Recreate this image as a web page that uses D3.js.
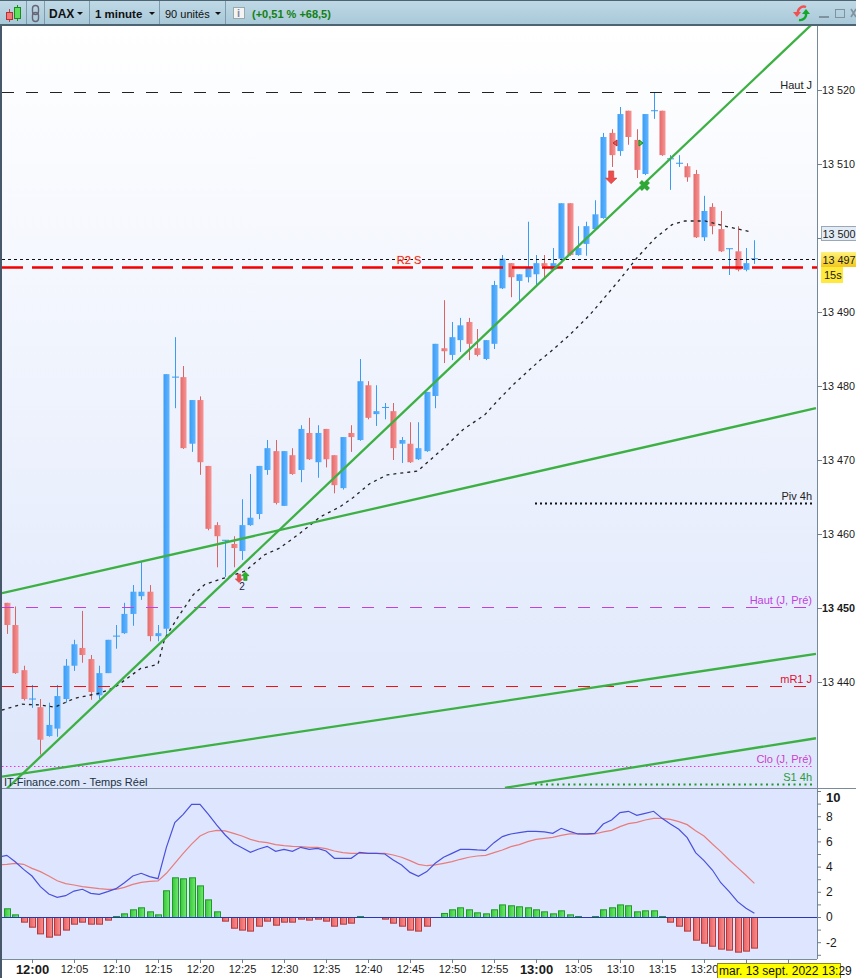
<!DOCTYPE html>
<html>
<head>
<meta charset="utf-8">
<script src="https://cdn.jsdelivr.net/npm/d3@7/dist/d3.min.js"></script>
<style>
html,body{margin:0;padding:0;background:#fff;overflow:hidden}
svg{display:block}
text{font-family:"Liberation Sans",Arial,sans-serif;font-size:11px}
</style>
</head>
<body>
<script>
// bougies 1 minute, de 11:57 a 13:26
var opens = [13450.7,13447.7,13441.6,13437.7,13436.6,13432.7,13433.7,13437.7,13442.2,13444.6,
  13443.1,13438.2,13441.2,13446.2,13446.6,13449.2,13451.6,13452.2,13446.2,13447.2,
  13481.2,13481.2,13472.2,13478.1,13469.2,13461.2,13459.15,13458.65,13457.7,13461.2,
  13462.7,13468.65,13471.2,13463.8,13470.65,13468.65,13473.65,13469.7,13474.2,13470.65,
  13466.2,13473.65,13472.7,13480.1,13476.2,13477.1,13476.6,13472.2,13472.2,13470.1,
  13471.2,13478.65,13485.1,13484.2,13486.2,13488.65,13485.1,13483.65,13485.7,13493.2,
  13496.6,13494.2,13494.7,13495.1,13496.6,13495.7,13497.2,13504.7,13497.7,13499.2,
  13501.2,13502.7,13514.2,13511.75,13517.2,13513.25,13508.65,13517.2,13517.2,13510.7,
  13510.1,13509.7,13508.65,13500.1,13504.2,13501.2,13498.55,13498.2,13495.7,13497.2];
var closes = [13447.7,13441.2,13437.7,13437.7,13432.2,13434.2,13438.1,13442.2,13445.1,13443.65,
  13438.65,13441.2,13445.7,13446.2,13449.2,13452.2,13452.2,13446.2,13446.6,13481.6,
  13481.2,13471.6,13478.1,13469.7,13460.7,13459.7,13459.15,13458.1,13461.2,13462.2,
  13469.2,13471.6,13464.2,13471.2,13468.1,13474.2,13470.1,13473.65,13470.1,13466.6,
  13473.1,13473.1,13480.65,13475.7,13476.6,13477.1,13471.6,13472.7,13469.7,13471.6,
  13479.2,13485.7,13484.7,13486.6,13488.2,13485.7,13484.2,13486.2,13493.65,13497.2,
  13494.7,13495.1,13496.1,13496.6,13496.2,13496.6,13504.7,13497.7,13498.65,13501.6,
  13503.2,13513.65,13511.2,13516.75,13513.65,13509.2,13516.75,13517.2,13511.2,13510.7,
  13510.1,13508.2,13500.1,13503.65,13501.6,13498.2,13498.55,13495.7,13496.6,13497.2];
var highs = [13450.7,13450.2,13442.2,13439.6,13437.7,13437.2,13439.6,13443.1,13445.7,13449.6,
  13443.65,13442.2,13445.7,13447.7,13450.7,13453.1,13456.2,13453.1,13447.7,13481.6,
  13486.6,13482.7,13478.1,13478.6,13469.2,13461.6,13459.15,13459.7,13464.7,13468.1,
  13469.2,13472.7,13472.7,13471.2,13471.6,13474.7,13475.7,13474.7,13474.2,13470.65,
  13473.1,13474.7,13483.65,13480.65,13480.1,13477.7,13477.7,13473.1,13475.1,13475.1,
  13479.2,13485.7,13491.6,13488.65,13489.2,13489.2,13487.7,13486.2,13494.2,13497.7,
  13496.6,13495.1,13502.2,13497.7,13497.7,13498.65,13504.7,13504.7,13501.6,13502.2,
  13505.1,13514.2,13514.7,13517.7,13517.2,13514.7,13516.75,13519.7,13517.2,13511.2,
  13511.2,13510.1,13509.2,13505.7,13504.7,13503.65,13498.55,13501.6,13498.65,13499.7];
var lows = [13446.5,13441.1,13437.5,13436.5,13430.2,13432.6,13432.6,13437.2,13441.5,13442.6,
  13437.6,13437.7,13441.2,13444.5,13446.5,13447.6,13451.1,13445.5,13445.5,13446.5,
  13477,13471.5,13471.1,13468,13460.5,13455.5,13454.2,13455.5,13456.5,13461.1,
  13462,13468,13464,13463.8,13468,13467,13470,13467.6,13469,13465.5,
  13466,13471.1,13472.6,13475.5,13474.6,13475.5,13470,13469.6,13469.6,13470,
  13471.1,13477,13483.1,13483.5,13484.6,13483.5,13484,13483.5,13485,13493.1,
  13492,13491.5,13494,13493.4,13494.6,13495.7,13496.6,13497.6,13497.6,13497.6,
  13501.2,13502.6,13509.6,13511.1,13512.6,13508.1,13508.5,13516.1,13511.1,13506.5,
  13509.6,13507.6,13500,13499.6,13500.5,13498.1,13495,13495.5,13495.5,13496.5];

// moyenne mobile pointillee: rang de bougie / prix
var emaRank = [-0.6,1.8,4,5.7,8.1,11.1,12.9,15.9,18,18.8,20.4,22.2,23.6,26.3,28.4,30.7,32.5,34.9,37.3,39.7,41.2,43.2,45.3,48.9,50.4,52.2,54.3,56.9,58.5,60.5,63.5,64.7,67,69.4,71.2,73.2,75,77.2,79.2,80.7,83.1,85.5,88.7];
var emaPrice = [13436.2,13437,13436.9,13436.6,13437.8,13438.5,13439.3,13441.8,13442.4,13445.9,13448.8,13451.8,13453.2,13454.2,13455,13457.2,13458.1,13460.1,13462.3,13463.7,13464.9,13466.8,13468,13468.5,13470,13471.8,13474.1,13476.1,13478.1,13480.4,13483.5,13484.6,13486.9,13489.6,13492,13494.7,13497.3,13500,13501.8,13502.3,13502.3,13501.6,13500.8];

// droites vertes: [rang, prix] de chaque bout
var trendA = [[0.02,13425.6],[95.86,13528.9]];
var trendB = [[-0.57,13452],[96.33,13477]];
var trendC = [[-0.57,13427.2],[96.33,13443.8]];
var trendD = [[59.3,13425.7],[96.33,13432.4]];

var levelNames = ["Haut J","","R2 S","Piv 4h","Haut (J, Pré)","mR1 J","Clo (J, Pré)","S1 4h"];
var levelValues = [13519.7,13497.1,13496.1,13464.2,13450.1,13439.4,13428.6,13426.2];

var priceTicks = [13440,13450,13460,13470,13480,13490,13500,13510,13520];
var macdTicks = [-2,0,2,4,6,8,10];
var macdMinor = [-3,-1,1,3,5,7,9];
var hourTicks = ["12:00","12:05","12:10","12:15","12:20","12:25","12:30","12:35","12:40","12:45","12:50","12:55","13:00","13:05","13:10","13:15","13:20","13:25","13:30"];

// MACD
var macdLead = 4.75, signalLead = 4.14;
var macd = [4.89,4.39,3.78,3.25,2.41,1.83,1.56,1.69,2.06,2.2,1.88,1.8,2.01,2.25,2.72,3.25,3.47,3.2,3.04,5.53,
  7.49,8.15,8.94,8.94,8.15,7.3,6.51,5.85,5.5,5.13,5.4,5.61,5.21,5.37,5.21,5.53,5.37,5.45,5.24,4.66,
  4.66,4.66,5.13,5.05,5.05,5,4.52,4.13,3.54,3.23,3.6,4.26,4.74,5.05,5.37,5.37,5.32,5.29,5.9,6.38,
  6.59,6.69,6.8,6.8,6.75,6.64,7.04,6.8,6.59,6.59,6.64,7.38,7.7,8.28,8.39,8.07,8.23,8.39,7.83,7.38,
  6.96,6.3,5.11,4.47,3.73,2.72,2.01,1.22,0.69,0.29];
var signal = [4.18,4.26,4.18,3.86,3.6,3.25,2.88,2.65,2.54,2.41,2.33,2.25,2.2,2.2,2.35,2.59,2.75,2.83,2.86,3.47,
  4.26,5.05,5.79,6.43,6.75,6.88,6.83,6.64,6.43,6.16,5.98,5.9,5.74,5.66,5.61,5.58,5.53,5.53,5.42,5.24,
  5.11,5.05,5.05,5.05,5.05,5.05,4.92,4.74,4.47,4.18,4.07,4.13,4.26,4.39,4.58,4.74,4.84,4.89,5.11,5.32,
  5.58,5.74,5.98,6.16,6.24,6.32,6.48,6.59,6.59,6.56,6.59,6.75,6.88,7.17,7.41,7.51,7.7,7.83,7.83,7.75,
  7.57,7.33,6.85,6.43,5.79,5.19,4.52,3.92,3.31,2.67];
var hist = [0.69,0.21,-0.37,-0.77,-1.3,-1.56,-1.4,-1,-0.53,-0.37,-0.53,-0.53,-0.21,0.08,0.29,0.61,0.77,0.45,0.21,2.12,
  3.15,3.07,3.15,2.51,1.4,0.45,-0.29,-0.85,-1,-1.08,-0.69,-0.29,-0.61,-0.37,-0.37,-0.13,-0.21,-0.13,-0.29,-0.69,
  -0.53,-0.45,0.08,0,0,-0.13,-0.45,-0.69,-1,-1.08,-0.69,0,0.32,0.61,0.77,0.61,0.37,0.29,0.61,1,
  0.93,0.85,0.77,0.61,0.45,0.29,0.53,0.21,0.08,0,0.08,0.61,0.77,1,0.93,0.45,0.53,0.53,0.08,-0.37,
  -0.69,-1.08,-1.8,-2.04,-2.28,-2.51,-2.59,-2.75,-2.67,-2.43];

var width = 856, height = 978;
var svg = d3.select("body").append("svg").attr("width", width).attr("height", height);
var defs = svg.append("defs");

function grad(id, x2, y2, stops) {
  var g = defs.append("linearGradient").attr("id", id).attr("x1", 0).attr("y1", 0).attr("x2", x2).attr("y2", y2);
  stops.forEach(function (s, i) {
    g.append("stop").attr("offset", i / (stops.length - 1)).attr("stop-color", s);
  });
}
grad("bgMain", 0, 1, ["#ffffff", "#dde6fb"]);
grad("bar", 0, 1, ["#c0d9e6", "#a8c8d8"]);
grad("up", 1, 0, ["#3a9cf5", "#62b6ff"]);
grad("down", 1, 0, ["#e46a6a", "#f89494"]);
grad("gUp", 1, 0, ["#38c838", "#72e872"]);
grad("gDown", 1, 0, ["#e86060", "#f89090"]);
grad("yellow", 0, 1, ["#fff27a", "#f2c81e"]);

defs.append("clipPath").attr("id", "mainClip").append("rect")
  .attr("x", 2).attr("y", 26).attr("width", 815).attr("height", 762);
defs.append("clipPath").attr("id", "lowClip").append("rect")
  .attr("x", 2).attr("y", 789).attr("width", 815).attr("height", 170);

var first = new Date(2022, 8, 13, 11, 57);
function minuteDate(i) { return d3.timeMinute.offset(first, i); }
var parseHour = function (s) {
  var p = s.split(":");
  return new Date(2022, 8, 13, +p[0], +p[1]);
};

var x = d3.scaleTime().domain([first, minuteDate(89)]).range([6.8, 754.4]);
var xr = function (r) { return x(new Date(first.getTime() + r * 60000)); };
var y = d3.scaleLinear().domain([13440, 13520]).range([682, 90]);
var yLow = d3.scaleLinear().domain([0, 10]).range([917, 791]);

// fonds
svg.append("rect").attr("width", width).attr("height", height).attr("fill", "#fff");
svg.append("rect").attr("x", 2).attr("y", 26).attr("width", 815).attr("height", 762).attr("fill", "url(#bgMain)");
svg.append("rect").attr("x", 2).attr("y", 789).attr("width", 815).attr("height", 170).attr("fill", "#dde6fe");
svg.append("rect").attr("x", 0).attr("y", 25).attr("width", 2).attr("height", 953).attr("fill", "#46586a");

var gMain = svg.append("g").attr("clip-path", "url(#mainClip)");

// bougies
var candles = d3.range(opens.length).map(function (i) {
  return {i: i, o: opens[i], c: closes[i], h: highs[i], l: lows[i]};
});
var bw = 6;
var cg = gMain.append("g").selectAll("g").data(candles).enter().append("g");
cg.append("line")
  .attr("x1", function (d) { return Math.round(x(minuteDate(d.i))) + 0.5; })
  .attr("x2", function (d) { return Math.round(x(minuteDate(d.i))) + 0.5; })
  .attr("y1", function (d) { return y(d.h); })
  .attr("y2", function (d) { return y(d.l); })
  .attr("stroke", function (d) { return d.c >= d.o ? "#3a9bf2" : "#d96464"; });
cg.filter(function (d) { return d.c !== d.o; }).append("rect")
  .attr("x", function (d) { return Math.round(x(minuteDate(d.i))) - 2.5; })
  .attr("width", bw)
  .attr("y", function (d) { return y(Math.max(d.o, d.c)); })
  .attr("height", function (d) { return Math.max(1, Math.abs(y(d.o) - y(d.c))); })
  .attr("fill", function (d) { return d.c >= d.o ? "url(#up)" : "url(#down)"; });
cg.filter(function (d) { return d.c === d.o; }).append("line")
  .attr("x1", function (d) { return Math.round(x(minuteDate(d.i))) - 3; })
  .attr("x2", function (d) { return Math.round(x(minuteDate(d.i))) + 4; })
  .attr("y1", function (d) { return y(d.o); })
  .attr("y2", function (d) { return y(d.o); })
  .attr("stroke", "#3a9bf2");

// niveaux horizontaux
var levelStyle = {
  "Haut J": {c: "#222", w: 1, dash: "12,12", x1: 2, x2: 806, lab: "#222"},
  "": {c: "#111", w: 1, dash: "3,3", x1: 2, x2: 817},
  "R2 S": {c: "#f40000", w: 2.5, dash: "21,9", x1: 2, x2: 817, lab: "#e8202a", labX: 409, halo: "#ffe0c0"},
  "Piv 4h": {c: "#111", w: 2, dash: "2,3", x1: 535, x2: 812, lab: "#222"},
  "Haut (J, Pré)": {c: "#c23fe0", w: 1, dash: "12,12", x1: 2, x2: 812, lab: "#c23fe0"},
  "mR1 J": {c: "#f01010", w: 1.2, dash: "12,12", x1: 2, x2: 812, lab: "#e01030"},
  "Clo (J, Pré)": {c: "#ea30ea", w: 1.2, dash: "1.5,2.5", x1: 2, x2: 812, lab: "#cc40cc"},
  "S1 4h": {c: "#1e9a2e", w: 2, dash: "2,3.5", x1: 535, x2: 814, lab: "#2a9a3a"}
};
var levels = levelNames.map(function (n, i) { return {name: n, v: levelValues[i], s: levelStyle[n]}; });
gMain.append("g").selectAll("line").data(levels).enter().append("line")
  .attr("x1", function (d) { return d.s.x1; })
  .attr("x2", function (d) { return d.s.x2; })
  .attr("y1", function (d) { return Math.round(y(d.v)) + 0.5; })
  .attr("y2", function (d) { return Math.round(y(d.v)) + 0.5; })
  .attr("stroke", function (d) { return d.s.c; })
  .attr("stroke-width", function (d) { return d.s.w; })
  .attr("stroke-dasharray", function (d) { return d.s.dash; });

// moyenne mobile
var lineEma = d3.line().x(function (d) { return xr(d[0]); }).y(function (d) { return y(d[1]); });
gMain.append("path").datum(d3.zip(emaRank, emaPrice)).attr("d", lineEma)
  .attr("fill", "none").attr("stroke", "#222").attr("stroke-width", 1.3).attr("stroke-dasharray", "3,4");

// droites vertes
gMain.append("g").selectAll("path").data([trendA, trendB, trendC, trendD]).enter().append("path")
  .attr("d", lineEma).attr("fill", "none").attr("stroke", "#3cb043").attr("stroke-width", 2.3);

// signaux sur le graphe
function arrow(px, py, s, fill, stroke, dirDown) {
  var k = dirDown ? 1 : -1;
  var pts = [[-1.6, -4], [1.6, -4], [1.6, 0.5], [3.6, 0.5], [0, 4], [-3.6, 0.5], [-1.6, 0.5]];
  svg.append("polygon")
    .attr("points", pts.map(function (p) { return (px + p[0] * s) + "," + (py + k * p[1] * s); }).join(" "))
    .attr("fill", fill).attr("stroke", stroke).attr("stroke-width", 0.6);
}
arrow(xr(71.95), y(13508.2), 1.6, "#ee4d4d", "#c94040", true);
arrow(xr(27.65), y(13454), 1.05, "#ee4d4d", "#c94040", true);
arrow(xr(28.4), y(13454.3), 1.05, "#28b428", "#1c8c1c", false);
svg.append("text").attr("x", xr(28)).attr("y", y(13452.4)).attr("text-anchor", "middle")
  .style("font-size", "10px").attr("fill", "#224").text("2");
svg.append("polygon").attr("points", [[617, 140], [613, 143], [617, 146]].join(" ")).attr("fill", "#ee5555").attr("stroke", "#b83030");
svg.append("polygon").attr("points", [[639, 140], [643, 143], [639, 146]].join(" ")).attr("fill", "#44cc44").attr("stroke", "#1c8c1c");
svg.append("path").attr("d", "M640.5,181.5 L648.5,189.5 M648.5,181.5 L640.5,189.5")
  .attr("stroke", "#2ea836").attr("stroke-width", 4).attr("fill", "none");

// etiquettes des niveaux
svg.append("g").selectAll("text").data(levels.filter(function (d) { return d.name; })).enter().append("text")
  .attr("x", function (d) { return d.s.labX || 812; })
  .attr("y", function (d) { return y(d.v) - 3; })
  .attr("text-anchor", function (d) { return d.s.labX ? "middle" : "end"; })
  .attr("fill", function (d) { return d.s.lab; })
  .attr("paint-order", "stroke")
  .attr("stroke", function (d) { return d.s.halo || "none"; })
  .attr("stroke-width", 1)
  .text(function (d) { return d.name; });

svg.append("text").attr("x", 4).attr("y", 786).attr("fill", "#20303f").text("IT-Finance.com - Temps Réel");

// axe des prix
svg.append("line").attr("x1", 817.5).attr("x2", 817.5).attr("y1", 26).attr("y2", 959).attr("stroke", "#76899a");
var frPrice = function (d) {
  if (d === 13500) return ""; // cache par la boite de la moyenne
  return d3.format("d")(d).replace(/(\d+)(\d{3})$/, "$1 $2");
};
var axisPrice = svg.append("g").attr("transform", "translate(817,0)")
  .call(d3.axisRight(y).tickValues(priceTicks).tickSize(5).tickPadding(0).tickFormat(frPrice));
axisPrice.select(".domain").remove();
axisPrice.selectAll("line").attr("stroke", "#6f7f8e");
axisPrice.selectAll("text").attr("fill", "#1a1a1a").style("font-size", "10.8px")
  .style("font-weight", function (d) { return d === 13450 ? "bold" : "normal"; });

// boites du prix
svg.append("rect").attr("x", 821.5).attr("y", 226.5).attr("width", 40).attr("height", 14)
  .attr("fill", "#e3ebf5").attr("stroke", "#98a8b8");
svg.append("text").attr("x", 822.5).attr("y", 238).attr("fill", "#1a1a1a").style("font-size", "10.8px").text("13 500");
svg.append("rect").attr("x", 821).attr("y", 252).attr("width", 40).attr("height", 15).attr("fill", "url(#yellow)");
svg.append("text").attr("x", 822.5).attr("y", 264).attr("fill", "#1a1a1a").style("font-size", "10.8px").text("13 497");
svg.append("rect").attr("x", 821).attr("y", 267).attr("width", 22).attr("height", 16).attr("fill", "#ffe93c");
svg.append("text").attr("x", 824).attr("y", 279).attr("fill", "#1a1a1a").text("15s");

// panneau MACD
svg.append("line").attr("x1", 2).attr("x2", 856).attr("y1", 788.5).attr("y2", 788.5).attr("stroke", "#7a8c9a");
svg.append("line").attr("x1", 2).attr("x2", 817).attr("y1", 959.5).attr("y2", 959.5).attr("stroke", "#7a8c9a");
var gLow = svg.append("g").attr("clip-path", "url(#lowClip)");

var histBars = hist.map(function (v, i) { return {i: i, v: v}; }).filter(function (d) { return d.v !== 0; });
gLow.append("g").selectAll("rect").data(histBars).enter().append("rect")
  .attr("x", function (d) { return Math.round(x(minuteDate(d.i))) - 2.5; })
  .attr("width", 6)
  .attr("y", function (d) { return (d.v > 0 ? yLow(d.v) : yLow(0)) + 0.5; })
  .attr("height", function (d) { return Math.abs(yLow(d.v) - yLow(0)); })
  .attr("fill", function (d) { return d.v > 0 ? "url(#gUp)" : "url(#gDown)"; })
  .attr("stroke", function (d) { return d.v > 0 ? "#1e9a28" : "#b5383c"; });

gLow.append("line").attr("x1", 2).attr("x2", 817).attr("y1", yLow(0) + 0.5).attr("y2", yLow(0) + 0.5).attr("stroke", "#2a35b8");

var lineLow = d3.line().x(function (d) { return xr(d[0]); }).y(function (d) { return yLow(d[1]); });
function withRank(lead, arr) {
  return [[-1, lead]].concat(arr.map(function (v, i) { return [i, v]; }));
}
gLow.append("path").datum(withRank(signalLead, signal)).attr("d", lineLow)
  .attr("fill", "none").attr("stroke", "#e87c7c").attr("stroke-width", 1.2);
gLow.append("path").datum(withRank(macdLead, macd)).attr("d", lineLow)
  .attr("fill", "none").attr("stroke", "#4a50dc").attr("stroke-width", 1.2);

var axisLow = svg.append("g").attr("transform", "translate(817,0)")
  .call(d3.axisRight(yLow).tickValues(macdTicks.concat(macdMinor)).tickSize(4).tickPadding(3)
    .tickFormat(function (d) { return macdTicks.indexOf(d) >= 0 ? String(d) : ""; }));
axisLow.select(".domain").remove();
axisLow.selectAll("line").attr("stroke", "#6f7f8e");
axisLow.selectAll("text").attr("fill", "#1a1a1a").attr("x", 9).style("font-size", "12px");
axisLow.selectAll(".tick").filter(function (d) { return d === 10; }).select("text")
  .attr("y", 6).style("font-weight", "bold").style("font-size", "13px");

// axe du temps (13:25 et 13:30 passent sous la date)
var axisTime = svg.append("g").attr("transform", "translate(0,959)")
  .call(d3.axisBottom(x).tickValues(hourTicks.map(parseHour)).tickSize(4).tickPadding(2)
    .tickFormat(function (d) {
      return d.getHours() === 13 && d.getMinutes() >= 25 ? "" : d3.timeFormat("%H:%M")(d);
    }));
axisTime.select(".domain").remove();
axisTime.selectAll("line").attr("stroke", "#6f7f8e");
axisTime.selectAll("text").attr("fill", "#1a1a1a")
  .style("font-weight", function (d) { return d.getMinutes() === 0 ? "bold" : "normal"; })
  .style("font-size", function (d) { return d.getMinutes() === 0 ? "13px" : "11px"; });

svg.append("rect").attr("x", 717.5).attr("y", 963.5).attr("width", 123).attr("height", 16)
  .attr("fill", "#ffff00").attr("stroke", "#8a8a20");
svg.append("text").attr("x", 719).attr("y", 975).attr("fill", "#111").style("font-size", "12px").text("mar. 13 sept. 2022 13:29");

// barre d'outils
var bar = svg.append("g");
bar.append("rect").attr("width", width).attr("height", 25).attr("fill", "url(#bar)");
bar.append("rect").attr("width", width).attr("height", 1).attr("fill", "#4d6472");
bar.append("rect").attr("y", 24).attr("width", width).attr("height", 2).attr("fill", "#4d6472");
bar.selectAll(".sep").data([26, 44, 89, 159, 225]).enter().append("line").attr("class", "sep")
  .attr("x1", function (d) { return d + 0.5; }).attr("x2", function (d) { return d + 0.5; })
  .attr("y1", 1).attr("y2", 24).attr("stroke", "#7f9aaa");
// icone bougies
bar.append("line").attr("x1", 9.5).attr("x2", 9.5).attr("y1", 9).attr("y2", 22).attr("stroke", "#c04040");
bar.append("rect").attr("x", 6.5).attr("y", 12.5).attr("width", 6).attr("height", 7).attr("fill", "#ef7a7a").attr("stroke", "#b83030");
bar.append("line").attr("x1", 17.5).attr("x2", 17.5).attr("y1", 5).attr("y2", 21).attr("stroke", "#1e8a1e");
bar.append("rect").attr("x", 14.5).attr("y", 7.5).attr("width", 6).attr("height", 11).attr("fill", "#5ee05e").attr("stroke", "#1e8a1e");
// icone chaine
bar.append("rect").attr("x", 32.5).attr("y", 5.5).attr("width", 6).attr("height", 9).attr("rx", 3).attr("fill", "none").attr("stroke", "#667").attr("stroke-width", 1.4);
bar.append("rect").attr("x", 32.5).attr("y", 12.5).attr("width", 6).attr("height", 9).attr("rx", 3).attr("fill", "none").attr("stroke", "#667").attr("stroke-width", 1.4);

function tri(px) {
  bar.append("polygon").attr("points", [[px, 12], [px + 6, 12], [px + 3, 15]].join(" ")).attr("fill", "#111");
}
bar.append("text").attr("x", 49).attr("y", 18).attr("fill", "#111").style("font-weight", "bold").style("font-size", "12px").text("DAX");
tri(77);
bar.append("text").attr("x", 95).attr("y", 18).attr("fill", "#111").style("font-weight", "bold").style("font-size", "11.5px").text("1 minute");
tri(149);
bar.append("text").attr("x", 165).attr("y", 18).attr("fill", "#111").text("90 unités");
tri(215);
bar.append("rect").attr("x", 233.5).attr("y", 7.5).attr("width", 11).attr("height", 11).attr("fill", "#f4f4f4").attr("stroke", "#9aa");
bar.append("text").attr("x", 237).attr("y", 17).attr("fill", "#889").style("font-weight", "bold").text("i");
bar.append("text").attr("x", 252).attr("y", 18).attr("fill", "#128012").style("font-weight", "bold").text("(+0,51 % +68,5)");
// icones de droite
bar.append("path").attr("d", "M806,7 A6,6 0 0,0 798,14").attr("fill", "none").attr("stroke", "#f05050").attr("stroke-width", 2.4);
bar.append("polygon").attr("points", "793,12 801,12 797,17").attr("fill", "#f05050");
bar.append("path").attr("d", "M799,20 A6,6 0 0,0 806,13").attr("fill", "none").attr("stroke", "#14a828").attr("stroke-width", 2.4);
bar.append("polygon").attr("points", "802,14 810,14 806,9").attr("fill", "#14a828");
bar.append("rect").attr("x", 819).attr("y", 16).attr("width", 10).attr("height", 2).attr("fill", "#7f929e");
bar.append("rect").attr("x", 835.5).attr("y", 9.5).attr("width", 9).attr("height", 8).attr("fill", "none").attr("stroke", "#7f929e");
bar.append("path").attr("d", "M851,9 L856,17 M856,9 L851,17").attr("stroke", "#7f929e").attr("stroke-width", 1.6);
</script>
</body>
</html>
